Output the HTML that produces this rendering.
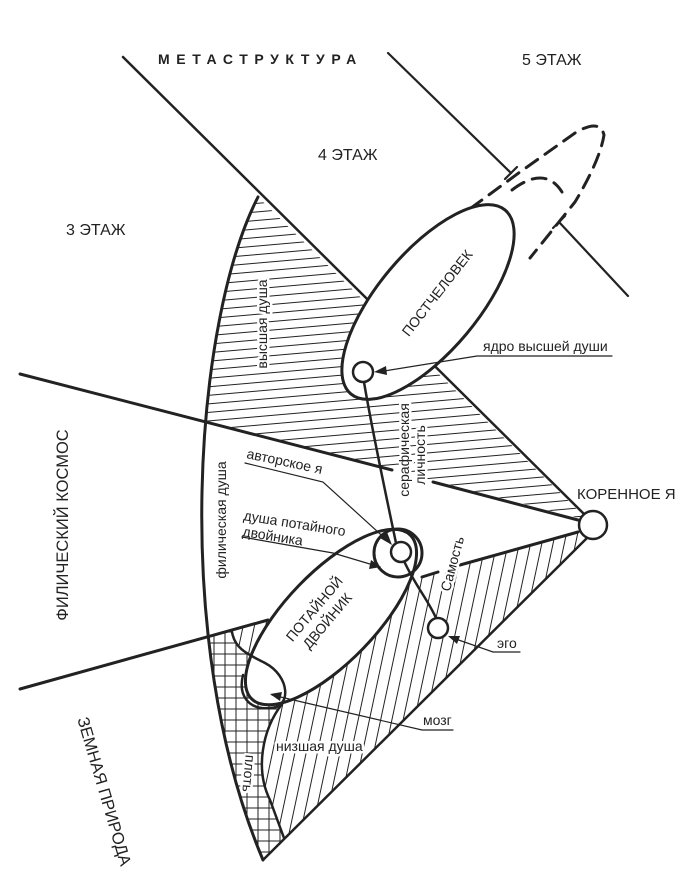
<!DOCTYPE html>
<html><head><meta charset="utf-8"><style>
html,body{margin:0;padding:0;background:#fff}
svg{display:block}
text{font-family:"Liberation Sans",sans-serif;fill:#222}
</style></head><body>
<svg width="683" height="895" viewBox="0 0 683 895" xmlns="http://www.w3.org/2000/svg">
<defs>
<pattern id="hz" patternUnits="userSpaceOnUse" width="40" height="8.5" patternTransform="rotate(-5)">
<line x1="0" y1="4" x2="40" y2="4" stroke="#222" stroke-width="1"/></pattern>
<pattern id="dg" patternUnits="userSpaceOnUse" width="11" height="40" patternTransform="rotate(12)">
<line x1="5" y1="0" x2="5" y2="40" stroke="#222" stroke-width="1"/></pattern>
<pattern id="cr" patternUnits="userSpaceOnUse" width="11" height="11">
<path d="M5 0V11M0 5H11" stroke="#222" stroke-width="1" fill="none"/></pattern>
<clipPath id="fan"><path d="M258,197 C195,320 170,640 263,860 L587,538 L593,525 Z"/></clipPath>
<clipPath id="up"><polygon points="0,0 683,0 683,545 20,374 0,369"/></clipPath>
<clipPath id="low"><polygon points="0,895 683,895 683,520 578,532 20,689 0,695"/></clipPath>
<clipPath id="flesh"><path d="M0,600 L232,632 C235,650 250,655 265,663 C290,676 292,705 280,705 C262,730 255,770 270,800 L284,838 L284,895 L0,895 Z"/></clipPath>
</defs>

<g clip-path="url(#fan)">
 <rect clip-path="url(#up)" x="0" y="0" width="683" height="895" fill="url(#hz)"/>
 <rect clip-path="url(#low)" x="0" y="0" width="683" height="895" fill="url(#dg)"/>
</g>
<g clip-path="url(#fan)"><g clip-path="url(#low)">
 <rect clip-path="url(#flesh)" x="0" y="0" width="683" height="895" fill="#fff"/>
 <rect clip-path="url(#flesh)" x="0" y="0" width="683" height="895" fill="url(#cr)"/>
</g></g>

<g stroke="#222" fill="none" stroke-linecap="round">
 <line x1="123" y1="57" x2="583" y2="513" stroke-width="2.5"/>
 <line x1="388" y1="53" x2="511" y2="173" stroke-width="2.2"/>
 <line x1="505" y1="179" x2="517" y2="167" stroke-width="2.2"/>
 <line x1="559" y1="222" x2="628" y2="296" stroke-width="2.2"/>
 <line x1="553" y1="228" x2="565" y2="216" stroke-width="2.2"/>
 <line x1="20" y1="374" x2="392" y2="470" stroke-width="3"/>
 <line x1="433" y1="482" x2="578" y2="520" stroke-width="3"/>
 <line x1="20" y1="689" x2="268" y2="620" stroke-width="3"/>
 <line x1="422" y1="577" x2="438" y2="572" stroke-width="3"/>
 <line x1="460" y1="565" x2="578" y2="532" stroke-width="3"/>
 <line x1="587" y1="538" x2="263" y2="860" stroke-width="2.5"/>
 <path d="M258,197 C195,320 170,640 263,860" stroke-width="3"/>
 <path d="M452,222 L520,172 L575,133 Q600,118 604,135 Q600,160 575,202 L530,258" stroke-width="3" stroke-dasharray="14,9"/>
 <path d="M512,190 Q545,165 562,192" stroke-width="3" stroke-dasharray="14,9"/>
 <ellipse cx="428" cy="302" rx="120" ry="50" transform="rotate(-50 428 302)" fill="#fff" stroke-width="3"/>
 <ellipse cx="331" cy="617" rx="114" ry="45" transform="rotate(-46 331 617)" fill="#fff" stroke-width="3"/>
 <path d="M232,632 C235,650 250,655 265,663 C290,676 292,708 270,708 C248,710 238,695 243,675" stroke-width="2.5"/>
 <path d="M282,704 C262,730 255,770 270,800 L284,838" stroke-width="2.5"/>
 <path d="M364,382 C372,430 385,490 396,543" stroke-width="2.5"/>
 <path d="M404,561 C415,585 428,600 436,618" stroke-width="2.5"/>
 <circle cx="363" cy="372" r="10" fill="#fff" stroke-width="2.5"/>
 <ellipse cx="398" cy="553" rx="24" ry="24" fill="none" stroke-width="3"/>
 <circle cx="401" cy="552" r="10" fill="#fff" stroke-width="2.5"/>
 <circle cx="438" cy="628" r="10" fill="#fff" stroke-width="2.5"/>
 <circle cx="593" cy="525" r="14" fill="#fff" stroke-width="2.5"/>
 <g stroke-width="1.2">
  <polyline points="612,356 477,356 378,372"/>
  <polyline points="245,463 323,482 390,543"/>
  <polyline points="242,537 333,553 380,567"/>
  <polyline points="520,652 493,652 450,637"/>
  <polyline points="453,730 422,730 272,695"/>
 </g>
</g>
<g fill="#222">
 <polygon points="374,372 386,366 387,375"/>
 <polygon points="392,545 380,538 387,532"/>
 <polygon points="381,567 369,569 371,560"/>
 <polygon points="448,636 460,636 457,644"/>
 <polygon points="270,694 282,692 280,701"/>
</g>

<g font-size="14" stroke="#fff" stroke-width="5" paint-order="stroke" stroke-linejoin="round">
<text x="158" y="64" font-size="14" font-weight="bold" letter-spacing="6.6" stroke="none">МЕТАСТРУКТУРА</text>
<text x="522" y="65" font-size="16" stroke="none">5 ЭТАЖ</text>
<text x="318" y="160" font-size="16" stroke="none">4 ЭТАЖ</text>
<text x="66" y="235" font-size="16" stroke="none">3 ЭТАЖ</text>
<text transform="translate(68,525) rotate(-90)" text-anchor="middle" font-size="16.5" stroke="none">ФИЛИЧЕСКИЙ КОСМОС</text>
<text transform="translate(99,793) rotate(73.6)" text-anchor="middle" font-size="16.5" stroke="none">ЗЕМНАЯ ПРИРОДА</text>
<text transform="translate(441,296) rotate(-52)" text-anchor="middle" font-size="14" stroke="none">ПОСТЧЕЛОВЕК</text>
<text transform="translate(267,324) rotate(-90)" text-anchor="middle">высшая душа</text>
<text x="483" y="351" stroke="none">ядро высшей души</text>
<text transform="translate(409,450) rotate(-90)" text-anchor="middle">серафическая</text>
<text transform="translate(425,455) rotate(-90)" text-anchor="middle">личность</text>
<text x="577" y="499" font-size="15" stroke="none">КОРЕННОЕ Я</text>
<text transform="translate(246,458) rotate(12)" stroke="none">авторское я</text>
<text transform="translate(243,520) rotate(9)" stroke="none">душа потайного</text>
<text transform="translate(242,536) rotate(9)" stroke="none">двойника</text>
<text transform="translate(226,520) rotate(-90)" text-anchor="middle" stroke="none">филическая душа</text>
<text transform="translate(457,565) rotate(-75)" text-anchor="middle">Самость</text>
<text transform="translate(318,612) rotate(-50)" text-anchor="middle" stroke="none">ПОТАЙНОЙ</text>
<text transform="translate(331,624) rotate(-50)" text-anchor="middle" stroke="none">ДВОЙНИК</text>
<text x="497" y="648" stroke="none">эго</text>
<text x="423" y="725">мозг</text>
<text x="276" y="751">низшая душа</text>
<text transform="translate(244,773) rotate(95)" text-anchor="middle">плоть</text>
</g>
</svg>
</body></html>
